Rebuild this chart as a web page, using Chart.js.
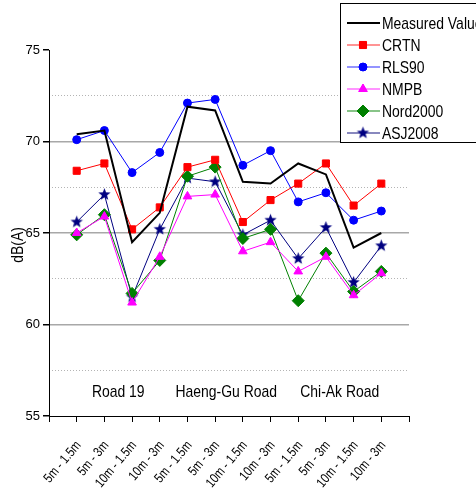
<!DOCTYPE html>
<html>
<head>
<meta charset="utf-8">
<script src="https://cdn.jsdelivr.net/npm/chart.js@4.4.1/dist/chart.umd.min.js"></script>
<style>
  html, body { margin: 0; padding: 0; background: #fff; }
  #wrap { width: 476px; height: 490px; position: relative; }
</style>
</head>
<body>
<div id="wrap"><canvas id="noiseChart"></canvas></div>
<script>
'use strict';

/* ── Data ───────────────────────────────────────── */
var categories = ['5m - 1.5m', '5m - 3m', '10m - 1.5m', '10m - 3m',
                  '5m - 1.5m', '5m - 3m', '10m - 1.5m', '10m - 3m',
                  '5m - 1.5m', '5m - 3m', '10m - 1.5m', '10m - 3m'];
var roads    = ['Road 19', 'Haeng-Gu Road', 'Chi-Ak Road'];
var roadAt   = [2.5, 6.4, 10.5];

var measured = [70.4, 70.6, 64.5, 66.1, 71.9, 71.7, 67.8, 67.7, 68.8, 68.2, 64.2, 65.0];
var crtn     = [68.4, 68.8, 65.2, 66.4, 68.6, 69.0, 65.6, 66.8, 67.7, 68.8, 66.5, 67.7];
var rls90    = [70.1, 70.6, 68.3, 69.4, 72.1, 72.3, 68.7, 69.5, 66.7, 67.2, 65.7, 66.2];
var nmpb     = [65.0, 65.9, 61.2, 63.7, 67.0, 67.1, 64.0, 64.5, 62.9, 63.7, 61.6, 62.8];
var nord2000 = [64.9, 66.0, 61.7, 63.5, 68.1, 68.6, 64.7, 65.2, 61.3, 63.9, 61.8, 62.9];
var asj2008  = [65.6, 67.1, 61.5, 65.2, 68.0, 67.8, 64.9, 65.7, 63.6, 65.3, 62.3, 64.3];

var yMin = 55, yMax = 75;
var minorGrid = [57.5, 62.5, 67.5, 72.5];

/* no narrow face installed: squeeze Liberation Sans horizontally instead */
var FONT = "'Liberation Sans', Arial, sans-serif";
var SQUEEZE = 0.82;

function narrowText(ctx, text, x, y, size, align, angle) {
  ctx.save();
  ctx.translate(x, y);
  if (angle) ctx.rotate(angle);
  ctx.scale(SQUEEZE, 1);
  ctx.font = size + 'px ' + FONT;
  ctx.textAlign = align;
  ctx.textBaseline = 'middle';
  ctx.fillStyle = '#000000';
  ctx.fillText(text, 0, 0);
  ctx.restore();
}

/* ── Filled star marker (Chart.js 'star' is only stroked) ── */
function makeStar(color, r) {
  var s = Math.ceil(r * 2 + 2);
  var c = document.createElement('canvas');
  c.width = s; c.height = s;
  var g = c.getContext('2d');
  g.fillStyle = color;
  g.beginPath();
  for (var k = 0; k < 10; k++) {
    var a = -Math.PI / 2 + k * Math.PI / 5;
    var rr = (k % 2) ? r * 0.42 : r;
    g.lineTo(s / 2 + rr * Math.cos(a), s / 2 + rr * Math.sin(a));
  }
  g.closePath();
  g.fill();
  return c;
}

function toPoints(arr) {
  return arr.map(function (v, i) { return { x: i + 1, y: v }; });
}

var series = [
  { label: 'Measured Value', data: measured, color: '#000000', legendLine: '#000000', width: 2, style: false,      radius: 0 },
  { label: 'CRTN',           data: crtn,     color: '#ff0000', legendLine: '#ff7070', width: 1, style: 'rect',     radius: 5 },
  { label: 'RLS90',          data: rls90,    color: '#0000ff', legendLine: '#7070ff', width: 1, style: 'circle',   radius: 4 },
  { label: 'NMPB',           data: nmpb,     color: '#ff00ff', legendLine: '#ff70ff', width: 1, style: 'triangle', radius: 5 },
  { label: 'Nord2000',       data: nord2000, color: '#008000', legendLine: '#60b060', width: 1, style: 'rectRot',  radius: 6 },
  { label: 'ASJ2008',        data: asj2008,  color: '#000080', legendLine: '#6060a8', width: 1, style: makeStar('#000080', 6.5), radius: 6 }
];

/* ── Boxed legend, partly clipped at the right edge ── */
var boxLegend = {
  id: 'boxLegend',
  afterDraw: function (chart) {
    var ctx = chart.ctx;
    ctx.save();
    ctx.fillStyle = '#ffffff';
    ctx.strokeStyle = '#000000';
    ctx.lineWidth = 1;
    ctx.fillRect(340.5, 3.5, 150, 139);
    ctx.strokeRect(340.5, 3.5, 150, 139);
    series.forEach(function (s, i) {
      var y = 23 + i * 22;
      ctx.strokeStyle = s.legendLine;
      ctx.lineWidth = s.width === 2 ? 2 : 1.5;
      ctx.beginPath(); ctx.moveTo(347, y); ctx.lineTo(380, y); ctx.stroke();
      if (s.style) {
        ctx.fillStyle = s.color; ctx.strokeStyle = s.color; ctx.lineWidth = 1;
        Chart.helpers.drawPoint(ctx, { pointStyle: s.style, radius: s.radius, borderWidth: 1 }, 363, y);
        if (typeof s.style === 'string') ctx.fill();
      }
      narrowText(ctx, s.label, 382, y + 1, 17, 'left');
    });
    ctx.restore();
  }
};

/* ── Texts drawn condensed: road names, x categories, y title ── */
var axisTexts = {
  id: 'axisTexts',
  afterDatasetsDraw: function (chart) {
    var ctx = chart.ctx, xs = chart.scales.x, ys = chart.scales.y;
    roads.forEach(function (r, i) {
      narrowText(ctx, r, xs.getPixelForValue(roadAt[i]), ys.getPixelForValue(56.3), 17, 'center');
    });
    categories.forEach(function (c, i) {
      narrowText(ctx, c, xs.getPixelForValue(i + 1) + 2, xs.top + 27, 13.5, 'right', -50 * Math.PI / 180);
    });
    narrowText(ctx, 'dB(A)', 18, (ys.top + ys.bottom) / 2 + 12, 17, 'center', -Math.PI / 2);
  }
};

new Chart(document.getElementById('noiseChart'), {
  type: 'line',
  data: {
    datasets: series.map(function (s) {
      return {
        label: s.label,
        data: toPoints(s.data),
        borderColor: s.color,
        backgroundColor: s.color,
        borderWidth: s.width,
        pointStyle: s.style,
        pointRadius: s.radius,
        pointHoverRadius: s.radius,
        pointBorderWidth: 1,
        tension: 0,
        fill: false
      };
    })
  },
  options: {
    responsive: true, maintainAspectRatio: false, animation: false,
    layout: { padding: { top: 50, right: 67, left: 0, bottom: 0 } },
    plugins: { legend: { display: false }, tooltip: { enabled: false } },
    scales: {
      x: {
        type: 'linear', min: 0, max: 13,
        afterFit: function (s) { s.height = 74; },
        ticks: { stepSize: 1, autoSkip: false, display: false },
        grid: { drawOnChartArea: false, tickLength: 6, tickColor: '#000' },
        border: { color: '#000', width: 1 }
      },
      y: {
        min: yMin, max: yMax,
        afterFit: function (s) { s.width = 49; },
        ticks: {
          stepSize: 2.5, color: '#000', font: { family: FONT, size: 13 }, padding: 3,
          callback: function (v) { return v % 5 === 0 ? v : ''; }
        },
        grid: {
          tickLength: 6,
          color: function (c) { var v = c.tick && c.tick.value; return (v % 5 === 0 && v !== yMax && v !== yMin) ? '#a8a8a8' : 'rgba(0,0,0,0)'; },
          lineWidth: 1.5,
          tickColor: function (c) { var v = c.tick && c.tick.value; return v % 5 === 0 ? '#000' : 'rgba(0,0,0,0)'; }
        },
        border: { color: '#000', width: 1 }
      },
      yMinor: {
        position: 'left', min: yMin, max: yMax,
        afterFit: function (s) { s.width = 0; },
        afterBuildTicks: function (s) { s.ticks = minorGrid.map(function (v) { return { value: v }; }); },
        ticks: { display: false },
        grid: { drawTicks: false, color: '#b4b4b4', lineWidth: 1 },
        border: { display: false, dash: [1, 2] }
      }
    }
  },
  plugins: [axisTexts, boxLegend]
});
</script>
</body>
</html>
